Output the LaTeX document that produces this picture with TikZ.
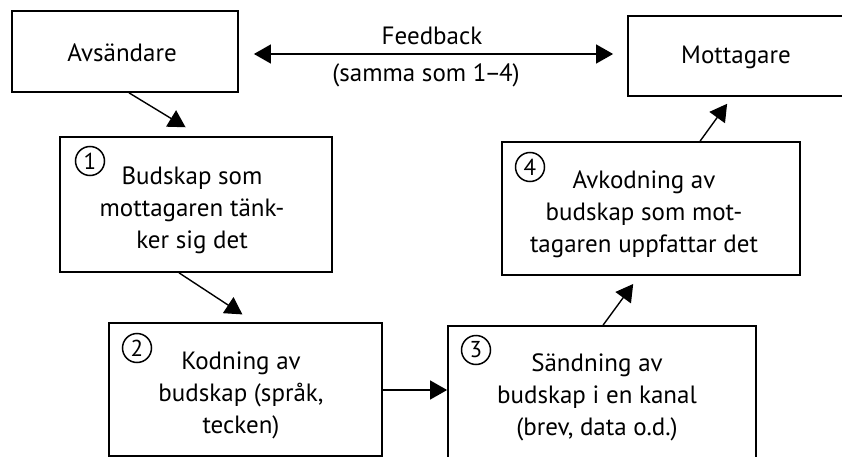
\documentclass[tikz,border=0pt]{standalone}
\usepackage{fontspec}
\setmainfont{PT Sans}
\usetikzlibrary{arrows.meta,calc}
\tikzset{
  box/.style={draw, line width=1.8pt, rectangle, inner sep=0pt},
  txt/.style={align=center, font=\fontsize{25}{32}\selectfont, inner sep=0pt},
  num/.style={draw, circle, line width=1.5pt, minimum size=29pt, inner sep=0pt, font=\fontsize{23}{23}\selectfont},
  arr/.style={line width=1.4pt, -{Triangle[length=17pt,width=19pt]}},
  arrb/.style={line width=1.4pt, {Triangle[length=17pt,width=19pt]}-{Triangle[length=17pt,width=19pt]}}
}
\begin{document}
\begin{tikzpicture}[x=1pt,y=-1pt]
\useasboundingbox (0,0) rectangle (842,457);
\clip (0,0) rectangle (842,457);
\fill[white] (0,0) rectangle (842,457);
% boxes
\node[box, minimum width=226pt, minimum height=81pt] (avs) at (125,51.5) {};
\node[box, minimum width=226pt, minimum height=80pt] (mott) at (741,56) {};
\node[box, minimum width=272pt, minimum height=135pt] (b1) at (196,204.5) {};
\node[box, minimum width=273pt, minimum height=133pt] (b2) at (245.5,389.5) {};
\node[box, minimum width=308pt, minimum height=136pt] (b3) at (602,394) {};
\node[box, minimum width=298pt, minimum height=133pt] (b4) at (651,208.5) {};
% texts
\node[txt] (tavs) at (122,53) {Avsändare};
\node[txt] (tmott) at (736,57) {Mottagare};
\node[txt] (t1) at (192,210) {Budskap som\\mottagaren tänk-\\ker sig det};
\node[txt] (t2) at (241,395) {Kodning av\\budskap (språk,\\tecken)};
\node[txt] (t3) at (597,397) {Sändning av\\budskap i en kanal\\(brev, data o.d.)};
\node[txt] (t4) at (644,214) {Avkodning av\\budskap som mot-\\tagaren uppfattar det};
\node[txt] (fb1) at (432,36) {Feedback};
\node[txt] (fb2) at (426,75) {(samma som 1\kern-2pt–\kern-2pt4)};
% numbers
\node[num] (n1) at (90,161) {1};
\node[num] (n2) at (137,348) {2};
\node[num] (n3) at (476,350) {3};
\node[num] (n4) at (530,167) {4};
% connectors
\draw[arr, shorten >=17pt] ($(avs.south west)+(118,0)$) -- ($(b1.north west)+(141,0)$);
\draw[arr, shorten >=14pt] ($(b1.south west)+(120,0)$) -- ($(b2.north west)+(146,0)$);
\draw[arr] ($(b2.east)+(0,0.5)$) -- ($(b3.west)+(0,-4)$);
\draw[arr, shorten >=10pt] ($(b3.north west)+(156,0)$) -- ($(b4.south west)+(138,0)$);
\draw[arr, shorten >=8.5pt] ($(b4.north west)+(199,0)$) -- ($(mott.south west)+(105,0)$);
\draw[arrb, shorten <=15pt, shorten >=14pt] ($(avs.east)+(0,2.5)$) -- ($(mott.west)+(0,-2)$);
\end{tikzpicture}
\end{document}
